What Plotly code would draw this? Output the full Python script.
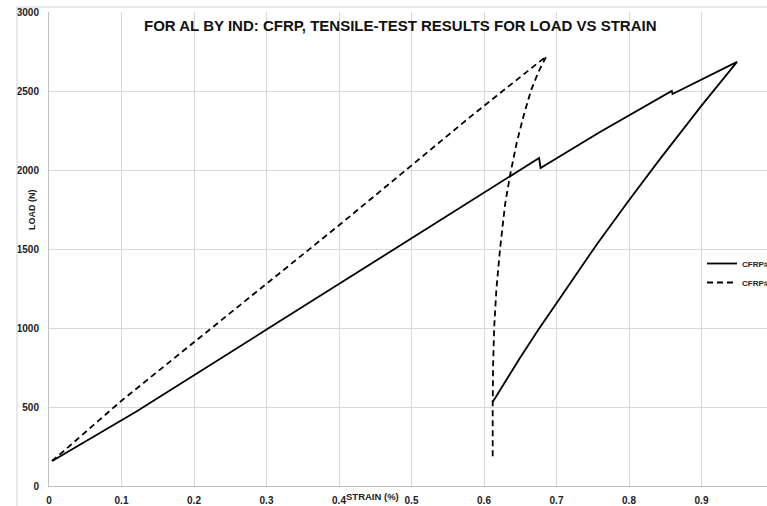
import plotly.graph_objects as go

# Series 1 (solid)
s1_strain = [0.005, 0.12, 0.3, 0.5, 0.676, 0.678, 0.76, 0.859, 0.860, 0.949,
             0.90, 0.84, 0.80, 0.756, 0.70, 0.674, 0.65, 0.63, 0.612]
s1_load = [160, 470, 990, 1567, 2076, 2013, 2240, 2500, 2481, 2684,
           2407, 2053, 1809, 1532, 1162, 983, 813, 667, 532]

# Series 2 (dashed)
s2_strain = [0.004, 0.022, 0.1, 0.4, 0.581, 0.686, 0.675, 0.665, 0.655, 0.645,
             0.636, 0.629, 0.622, 0.617, 0.614, 0.6125, 0.612, 0.612]
s2_load = [158, 228, 540, 1650, 2336, 2720, 2620, 2506, 2350, 2171,
           1968, 1780, 1494, 1240, 1000, 753, 500, 165]

series_names = ["CFRP#", "CFRP#"]
x_ticks = [0, 0.1, 0.2, 0.3, 0.4, 0.5, 0.6, 0.7, 0.8, 0.9]
y_ticks = [0, 500, 1000, 1500, 2000, 2500, 3000]

title_text = "FOR AL BY IND: CFRP, TENSILE-TEST RESULTS FOR LOAD VS STRAIN"
x_title = "STRAIN (%)"
y_title = "LOAD (N)"

W, H = 767, 506
ML, MR, MT, MB = 49, 0, 12, 20
PW = W - ML - MR
PH = H - MT - MB

def px2paper_x(px):
    return (px - ML) / PW

def px2paper_y(py):
    return (H - MB - py) / PH

fig = go.Figure()
fig.add_trace(go.Scatter(x=s1_strain, y=s1_load, mode="lines", name=series_names[0],
                         line=dict(color="#000000", width=1.8)))
fig.add_trace(go.Scatter(x=s2_strain, y=s2_load, mode="lines", name=series_names[1],
                         line=dict(color="#000000", width=1.8, dash="6px,4px")))

tick_font = dict(family="Liberation Sans, Arial, sans-serif", size=10, color="#222222",
                 weight="bold")

fig.update_layout(
    width=W, height=H,
    margin=dict(l=ML, r=MR, t=MT, b=MB, pad=0, autoexpand=False),
    paper_bgcolor="white", plot_bgcolor="white",
    font=dict(family="Liberation Sans, Arial, sans-serif", color="#222222"),
    showlegend=True,
    legend=dict(x=px2paper_x(702), y=px2paper_y(249), xanchor="left", yanchor="top",
                bgcolor="rgba(0,0,0,0)",
                font=dict(size=8, color="#222222", weight="bold"),
                tracegroupgap=2, itemwidth=30),
    xaxis=dict(range=[0, PW / 725.0], tickvals=x_ticks, ticktext=[str(v) for v in x_ticks],
               showgrid=True, gridcolor="#d9d9d9", gridwidth=1, automargin=False,
               showline=True, linecolor="#bfbfbf", linewidth=1,
               zeroline=False, ticks="", tickfont=tick_font, ticklabelstandoff=5),
    yaxis=dict(range=[0, 3000], tickvals=y_ticks, automargin=False,
               showgrid=True, gridcolor="#d9d9d9", gridwidth=1,
               showline=True, linecolor="#bfbfbf", linewidth=1,
               zeroline=False, ticks="", tickfont=tick_font, ticklabelstandoff=7),
    annotations=[
        dict(text="<b>" + title_text + "</b>", xref="paper", yref="paper",
             x=px2paper_x(400), y=px2paper_y(26), xanchor="center", yanchor="middle",
             showarrow=False, font=dict(size=15, color="#111111",
                                        family="Liberation Sans Narrow, Liberation Sans, Arial")),
        dict(text="<b>" + x_title + "</b>", xref="paper", yref="paper",
             x=px2paper_x(372), y=px2paper_y(496), xanchor="center", yanchor="middle",
             showarrow=False, font=dict(size=9.5, color="#222222")),
        dict(text="<b>" + y_title + "</b>", xref="paper", yref="paper",
             x=px2paper_x(32), y=px2paper_y(210), xanchor="center", yanchor="middle",
             textangle=-90, showarrow=False, font=dict(size=9, color="#222222")),
    ],
    shapes=[
        dict(type="line", xref="paper", yref="paper",
             x0=px2paper_x(17), x1=px2paper_x(17), y0=px2paper_y(7), y1=px2paper_y(506),
             line=dict(color="#d0d0d0", width=1)),
        dict(type="line", xref="paper", yref="paper",
             x0=px2paper_x(17), x1=px2paper_x(767), y0=px2paper_y(7), y1=px2paper_y(7),
             line=dict(color="#d0d0d0", width=1)),
    ],
)

fig.write_html("out.html", config={"displayModeBar": False},
               post_script="document.body.style.margin='0';document.body.style.overflow='hidden';")
